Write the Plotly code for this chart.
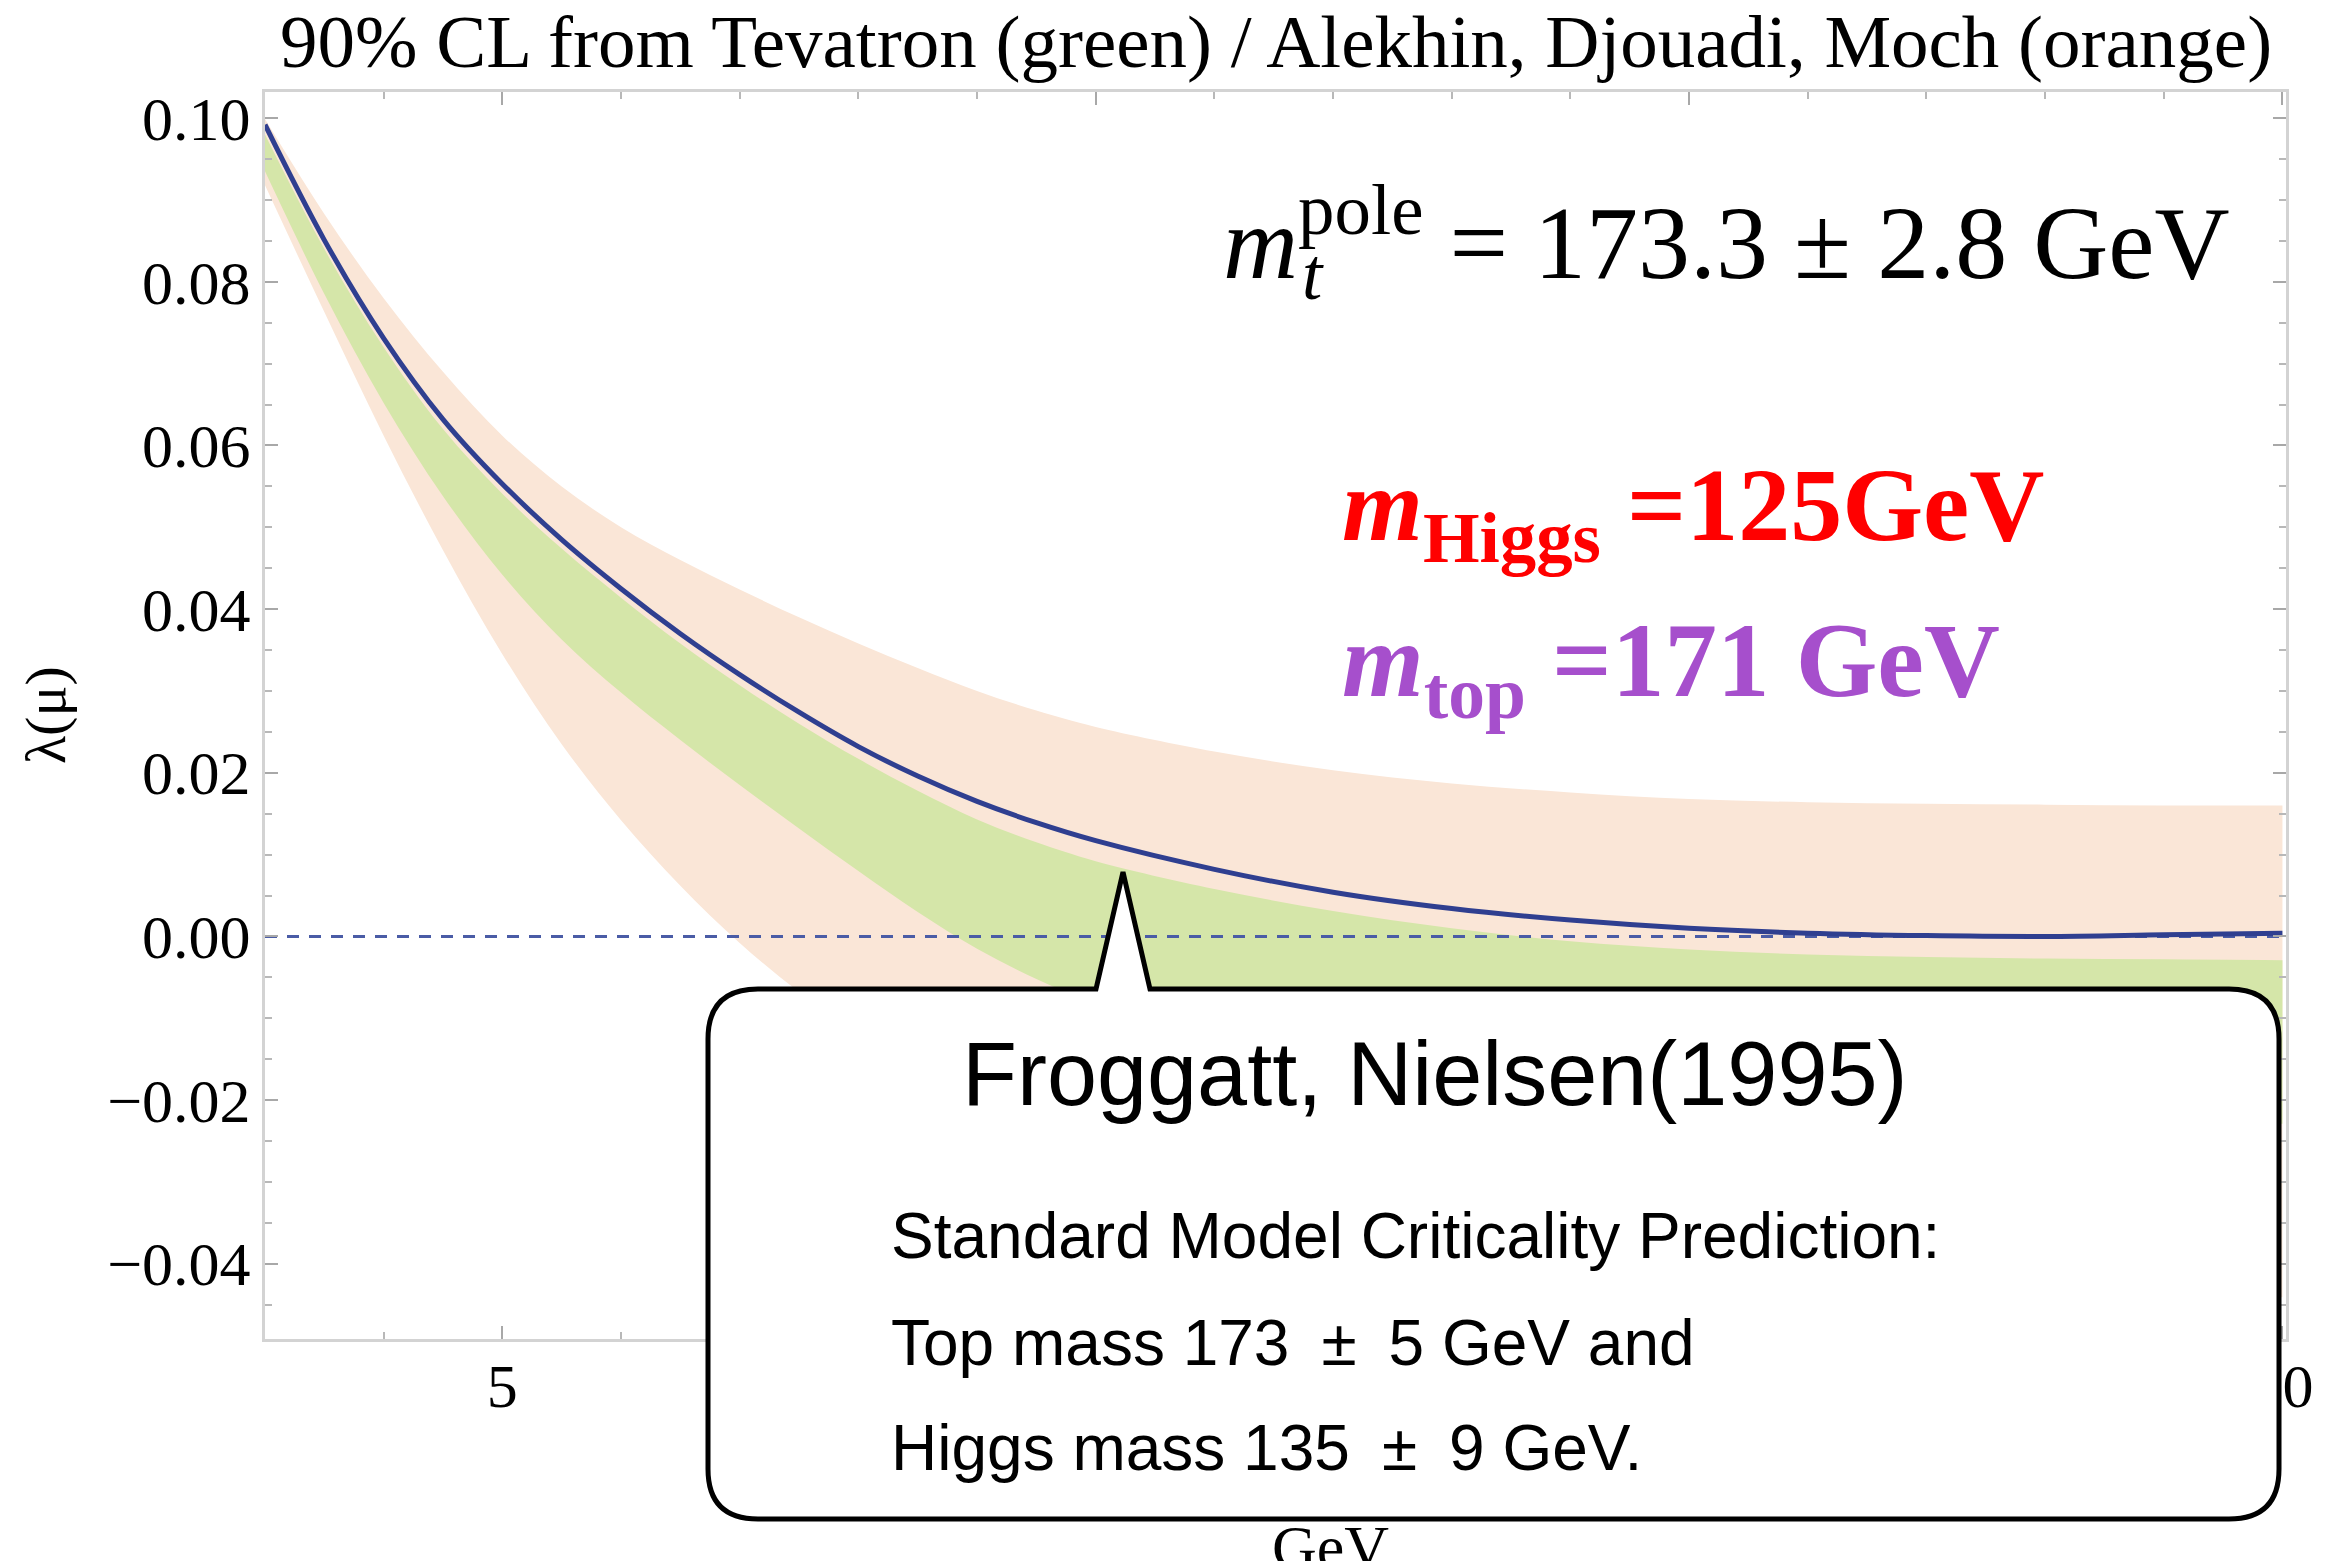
import plotly.graph_objects as go

# ---------------- data ----------------
log_mu = [3, 3.5, 4, 4.5, 5, 5.5, 6, 6.5, 7, 7.5, 8, 8.5, 9, 9.5, 10,
          11, 12, 13, 14, 15, 16, 17, 18, 19, 20]

lambda_central = [0.0992, 0.0851, 0.0731, 0.0632, 0.0553, 0.0485, 0.0425, 0.0370,
                  0.0320, 0.0274, 0.0232, 0.0196, 0.0165, 0.0139, 0.0117,
                  0.0082, 0.0054, 0.0034, 0.0020, 0.0010, 0.0004, 0.0001, 0.0000,
                  0.0002, 0.0004]

orange_upper = [0.0999, 0.0883, 0.0780, 0.0690, 0.0612, 0.0550, 0.0500, 0.0460,
                0.0424, 0.0390, 0.0358, 0.0328, 0.0300, 0.0276, 0.0256,
                0.0226, 0.0203, 0.0187, 0.0176, 0.0168, 0.0164, 0.0162, 0.0161,
                0.0160, 0.0160]

orange_lower = [0.0918, 0.0763, 0.0612, 0.0472, 0.0345, 0.0235, 0.0142, 0.0062,
                -0.0008, -0.0068, -0.0120, -0.0165, -0.0205, -0.0240, -0.0271,
                -0.0325, -0.0366, -0.0397, -0.0420, -0.0436, -0.0446, -0.0451, -0.0452,
                -0.0448, -0.0441]

green_upper = [0.0980, 0.0840, 0.0720, 0.0620, 0.0541, 0.0474, 0.0414, 0.0358,
               0.0307, 0.0260, 0.0217, 0.0178, 0.0143, 0.0115, 0.0092,
               0.0058, 0.0031, 0.0010, -0.0006, -0.0016, -0.0022, -0.0025, -0.0027,
               -0.0028, -0.0029]

green_lower = [0.0935, 0.0785, 0.0652, 0.0538, 0.0442, 0.0363, 0.0298, 0.0240,
               0.0185, 0.0132, 0.0080, 0.0030, -0.0015, -0.0052, -0.0082,
               -0.0125, -0.0157, -0.0181, -0.0199, -0.0212, -0.0221, -0.0226, -0.0229,
               -0.0230, -0.0229]

zero_level = 0.0
x_range = [3.0, 20.03]
y_range = [-0.0492, 0.1032]

# ---------------- layout geometry ----------------
W, H = 2338, 1561
L, R, T, B = 265, 2286, 92, 1339


def px(X):
    return (X - L) / (R - L)


def py(Y):
    return (B - Y) / (B - T)


ORANGE = "#FAE6D7"
GREEN = "#D5E6A9"
BLUE = "#2F3F90"

fig = go.Figure()
common = dict(mode="lines", hoverinfo="skip", showlegend=False)
fig.add_trace(go.Scatter(x=log_mu, y=orange_lower, line=dict(width=0, shape="spline"), **common))
fig.add_trace(go.Scatter(x=log_mu, y=orange_upper, line=dict(width=0, shape="spline"),
                         fill="tonexty", fillcolor=ORANGE, **common))
fig.add_trace(go.Scatter(x=log_mu, y=green_lower, line=dict(width=0, shape="spline"), **common))
fig.add_trace(go.Scatter(x=log_mu, y=green_upper, line=dict(width=0, shape="spline"),
                         fill="tonexty", fillcolor=GREEN, **common))
fig.add_trace(go.Scatter(x=x_range, y=[zero_level, zero_level],
                         line=dict(color="#4A5CA6", width=3, dash="12px,10px"), **common))
fig.add_trace(go.Scatter(x=log_mu, y=lambda_central,
                         line=dict(color=BLUE, width=5, shape="spline"), **common))

axis_common = dict(showline=True, linecolor="#d3d3d3", linewidth=3, mirror="allticks",
                   ticks="inside", tickwidth=2, tickcolor="#a8a8a8", showgrid=False,
                   zeroline=False,
                   tickfont=dict(family="Liberation Serif", size=62, color="black"))

fig.update_xaxes(range=x_range, dtick=5, tick0=0, ticklen=13, ticklabelstandoff=-9,
                 minor=dict(ticks="inside", ticklen=7, tickwidth=2, tickcolor="#b8b8b8",
                            dtick=1, tick0=0),
                 **axis_common)
fig.update_yaxes(range=y_range, dtick=0.02, tick0=0, tickformat=".2f", ticklen=13,
                 ticklabelstandoff=-1,
                 minor=dict(ticks="inside", ticklen=7, tickwidth=2, tickcolor="#b8b8b8",
                            dtick=0.005, tick0=0),
                 **axis_common)

# ---------------- callout box ----------------
bl, bt, br, bb, r = 708, 989, 2279, 1519, 50
tipL, tipX, tipY, tipR = 1096, 1123, 872, 1150


def P(X, Y):
    return f"{px(X):.5f},{py(Y):.5f}"


path = (f"M{P(bl + r, bt)} L{P(tipL, bt)} L{P(tipX, tipY)} L{P(tipR, bt)} "
        f"L{P(br - r, bt)} Q{P(br, bt)} {P(br, bt + r)} L{P(br, bb - r)} "
        f"Q{P(br, bb)} {P(br - r, bb)} L{P(bl + r, bb)} Q{P(bl, bb)} {P(bl, bb - r)} "
        f"L{P(bl, bt + r)} Q{P(bl, bt)} {P(bl + r, bt)} Z")
fig.add_shape(type="path", path=path, xref="paper", yref="paper", layer="above",
              fillcolor="white", line=dict(color="black", width=5))

annotations = []


def ann(text, X, Y, size, family, color="black", xanchor="left", yanchor="bottom", angle=0):
    annotations.append(dict(text=text, x=px(X), y=py(Y), xref="paper", yref="paper",
                            xanchor=xanchor, yanchor=yanchor, showarrow=False,
                            textangle=angle,
                            font=dict(family=family, size=size, color=color)))


SERIF = "Liberation Serif"
SANS = "Liberation Sans"
EN = "\u2002"

# title
ann("90% CL from Tevatron (green) / Alekhin, Djouadi, Moch (orange)",
    (L + R) / 2, 85, 75, SERIF, xanchor="center")
# y-axis title
ann("λ(μ)", 45, 715, 58, SERIF, xanchor="center", yanchor="middle", angle=-90)
# visible part of x-axis title
ann("GeV", 1330, 1511, 62, SERIF, xanchor="center", yanchor="top")

# top-mass formula
ann("<i>m</i><sup>pole</sup> = 173.3 ± 2.8 GeV", 1221, 302, 104, SERIF)
ann("<i>t</i>", 1300, 317, 73, SERIF)

# coloured statements
ann("<b><i>m</i><sub>Higgs</sub> =125GeV</b>", 1340, 445, 104, SERIF,
    color="#FF0000", yanchor="top")
ann("<b><i>m</i><sub>top</sub> =171 GeV</b>", 1340, 600, 105, SERIF,
    color="#A64FCC", yanchor="top")

# callout text
ann("Froggatt, Nielsen(1995)", 960, 1126, 90, SANS)
ann("Standard Model Criticality Prediction:", 889, 1274, 64, SANS)
ann(f"Top mass 173{EN}±{EN}5 GeV and", 889, 1381, 64, SANS)
ann(f"Higgs mass 135{EN}±{EN}9 GeV.", 889, 1486, 64, SANS)

fig.update_layout(width=W, height=H, margin=dict(l=L, r=W - R, t=T, b=H - B, pad=0),
                  plot_bgcolor="white", paper_bgcolor="white", showlegend=False,
                  annotations=annotations)

fig.write_html("out.html")
